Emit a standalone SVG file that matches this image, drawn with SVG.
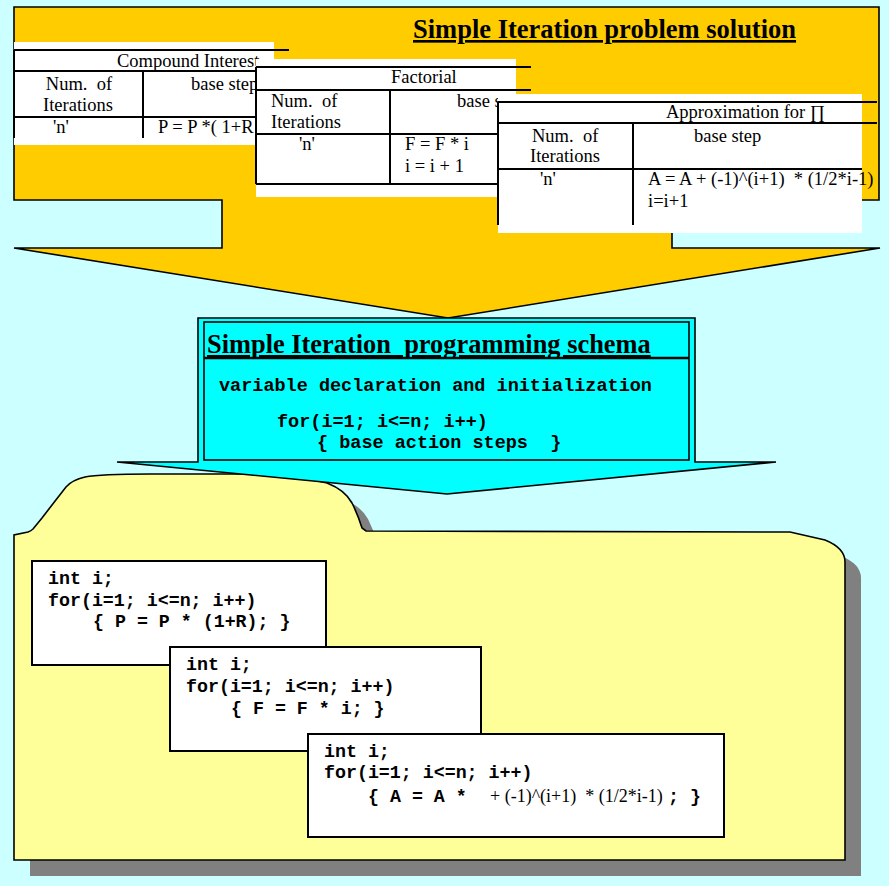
<svg xmlns="http://www.w3.org/2000/svg" width="889" height="886" viewBox="0 0 889 886">
<style>
.t{font-family:"Liberation Serif","Times New Roman",serif;font-size:18.5px;fill:#000}
.tb{font-family:"Liberation Serif","Times New Roman",serif;font-weight:bold;text-decoration:underline;fill:#000}
.m{font-family:"Liberation Mono","Courier New",monospace;font-weight:bold;font-size:18.3px;fill:#000}
.ms{font-family:"Liberation Mono","Courier New",monospace;font-weight:bold;font-size:18.5px;fill:#000}
.ln{stroke:#000;stroke-width:2;fill:none}
.wb{fill:#fff}
.box{fill:#fff;stroke:#000;stroke-width:2}
</style>
<rect x="0" y="0" width="889" height="886" fill="#CCFFFF"/>

<g id="problem-solution">
<path d="M14,7 H879 V200 H672 V248 H880 L448,318 L14,248 H222 V200 H14 Z" fill="#FFCC00" stroke="#000" stroke-width="1.6" stroke-linejoin="miter"/>
<text class="tb" x="413" y="38" font-size="26.5">Simple Iteration problem solution</text>
</g>

<g id="table-compound-interest">
<rect class="wb" x="14" y="42" width="260" height="103"/>
<path class="ln" d="M14,50 H289 M14,71 H289 M14,117 H289 M14,50 V138 M143,71 V138"/>
<text class="t" x="117" y="67">Compound Interest</text>
<text class="t" x="79" y="90" text-anchor="middle" xml:space="preserve">Num.  of</text>
<text class="t" x="78" y="111" text-anchor="middle">Iterations</text>
<text class="t" x="191" y="90">base step</text>
<text class="t" x="53" y="133">'n'</text>
<text class="t" x="158" y="133">P = P *( 1+R</text>
</g>

<g id="table-factorial">
<rect class="wb" x="256" y="59" width="260" height="138"/>
<path class="ln" d="M256,67 H531 M256,90 H531 M256,134 H531 M256,184 H531 M256,67 V184 M390,90 V184"/>
<text class="t" x="391" y="83">Factorial</text>
<text class="t" x="271" y="107" xml:space="preserve">Num.  of</text>
<text class="t" x="271" y="128">Iterations</text>
<text class="t" x="457" y="107">base step</text>
<text class="t" x="299" y="150">'n'</text>
<text class="t" x="405" y="150">F = F * i</text>
<text class="t" x="405" y="172">i = i + 1</text>
</g>

<g id="table-approximation">
<rect class="wb" x="498" y="94" width="364" height="139"/>
<path class="ln" d="M498,102 H877 M498,123 H877 M498,169 H862 M498,102 V225 M633,123 V225"/>
<text class="t" x="666" y="118">Approximation for ∏</text>
<text class="t" x="532" y="142" xml:space="preserve">Num.  of</text>
<text class="t" x="530" y="162">Iterations</text>
<text class="t" x="694" y="142">base step</text>
<text class="t" x="540" y="185">'n'</text>
<text class="t" x="648" y="185" xml:space="preserve">A = A + (-1)^(i+1)  * (1/2*i-1)</text>
<text class="t" x="648" y="207">i=i+1</text>
</g>

<g id="folder">
<path transform="translate(16,16)" fill="#808080" d="M14,860 L14,535 L28,532 Q31,531 33,529 L42,518 L52,505 L66,487 Q72,480 85,477 Q100,474 150,474 L250,474 Q300,476 327,483 Q345,490 352,503 Q358,515 362,528 L366,531 L790,532 L825,540 Q845,548 845,562 L845,860 Z"/>
<path fill="#FFFF99" stroke="#000" stroke-width="1.6" d="M14,860 L14,535 L28,532 Q31,531 33,529 L42,518 L52,505 L66,487 Q72,480 85,477 Q100,474 150,474 L250,474 Q300,476 327,483 Q345,490 352,503 Q358,515 362,528 L366,531 L790,532 L825,540 Q845,548 845,562 L845,860 Z"/>
</g>

<g id="programming-schema">
<path d="M198,318 H695 V462 H776 L447,494 L117,462 H198 Z" fill="#00FFFF" stroke="#000" stroke-width="1.6"/>
<rect x="204" y="322" width="485" height="138" fill="none" stroke="#000" stroke-width="1.6"/>
<line x1="204" y1="358" x2="689" y2="358" stroke="#000" stroke-width="2.5"/>
<text class="tb" x="207" y="353" font-size="26.4" xml:space="preserve">Simple Iteration  programming schema</text>
<text class="ms" x="219" y="391">variable declaration and initialization</text>
<text class="ms" x="277" y="427">for(i=1; i&lt;=n; i++)</text>
<text class="ms" x="317" y="448" xml:space="preserve">{ base action steps  }</text>
</g>

<g id="code-compound">
<rect class="box" x="32" y="561" width="294" height="104"/>
<text class="m" x="48" y="584">int i;</text>
<text class="m" x="48" y="606">for(i=1; i&lt;=n; i++)</text>
<text class="m" x="93" y="627">{ P = P * (1+R); }</text>
</g>

<g id="code-factorial">
<rect class="box" x="170" y="647" width="311" height="104"/>
<text class="m" x="186" y="670">int i;</text>
<text class="m" x="186" y="692">for(i=1; i&lt;=n; i++)</text>
<text class="m" x="231" y="714">{ F = F * i; }</text>
</g>

<g id="code-approximation">
<rect class="box" x="308" y="734" width="416" height="103"/>
<text class="m" x="324" y="757">int i;</text>
<text class="m" x="324" y="778">for(i=1; i&lt;=n; i++)</text>
<text y="802" xml:space="preserve"><tspan class="m" x="368">{ A = A *</tspan><tspan class="t" x="490" style="font-size:18px">+ (-1)^(i+1)  * (1/2*i-1)</tspan><tspan class="m" x="668">; }</tspan></text>
</g>

<g id="connectors"></g>
</svg>
